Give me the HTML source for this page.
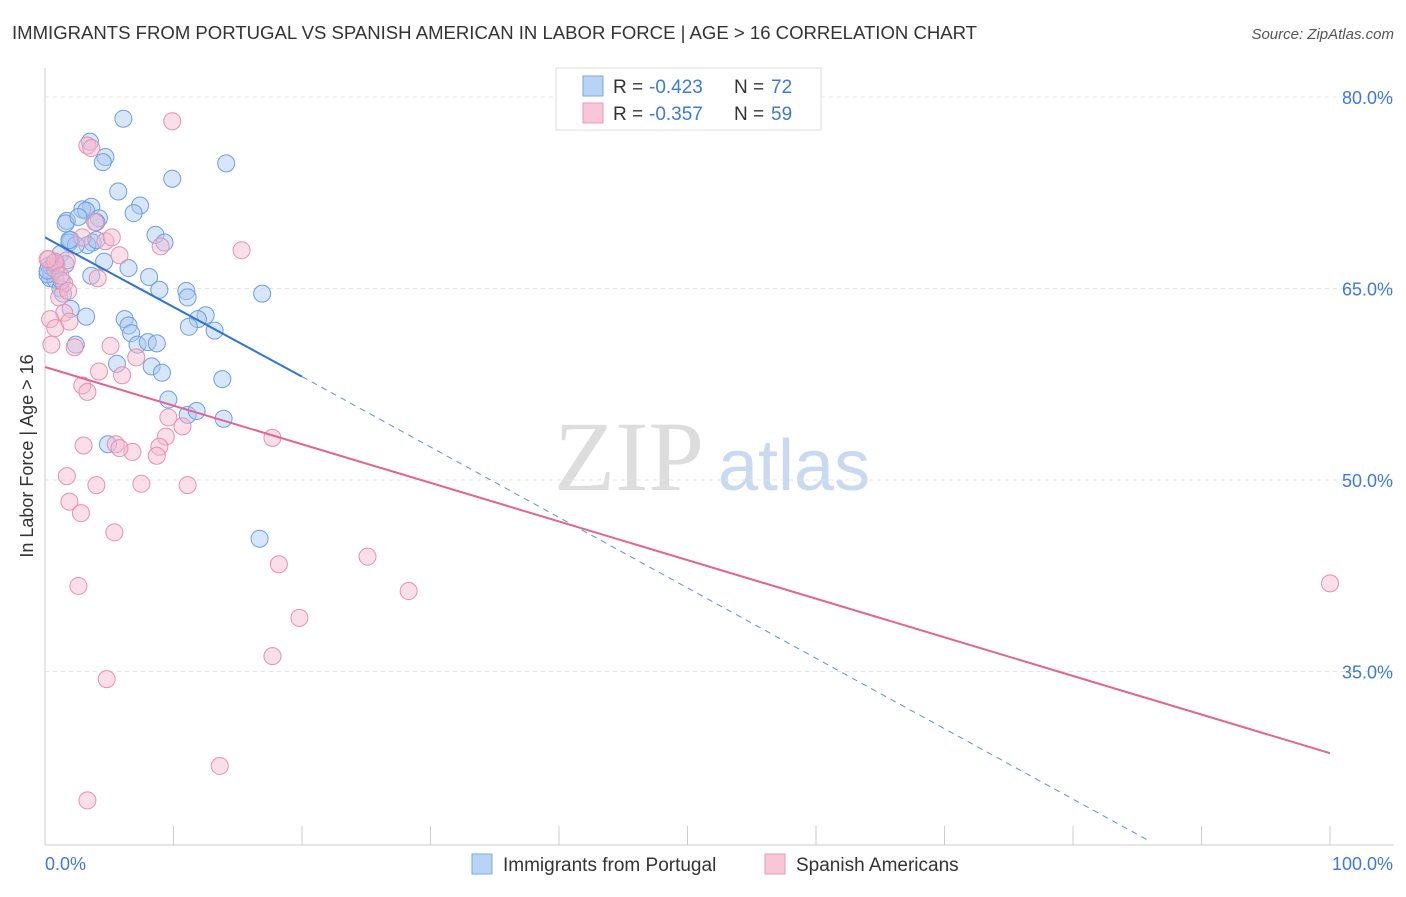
<!DOCTYPE html>
<html><head><meta charset="utf-8"><style>
body{margin:0;background:#fff;font-family:"Liberation Sans",sans-serif;}
</style></head><body>
<svg id="chart" width="1406" height="892" xmlns="http://www.w3.org/2000/svg">
<text x="12" y="39" font-size="18" fill="#333" textLength="965" lengthAdjust="spacingAndGlyphs">IMMIGRANTS FROM PORTUGAL VS SPANISH AMERICAN IN LABOR FORCE | AGE &gt; 16 CORRELATION CHART</text>
<text x="1394" y="39" font-size="15" fill="#555" font-style="italic" text-anchor="end">Source: ZipAtlas.com</text>
<text x="33" y="456" font-size="18" fill="#333" text-anchor="middle" transform="rotate(-90 33 456)">In Labor Force | Age &gt; 16</text>
<text x="554" y="490" font-size="100" fill="#ddd" font-family="Liberation Serif,serif">ZIP</text>
<text x="718" y="490" font-size="72" fill="#c9d9ef">atlas</text>
<g id="grid"></g><g id="pts"></g><g id="lines"></g>
<g>
<rect x="556" y="68" width="265" height="62" fill="#fff" stroke="#ddd"/>
<rect x="583" y="76" width="20" height="20" fill="#b9d3f5" stroke="#7aa6e6"/>
<rect x="583" y="103" width="20" height="20" fill="#f8c6d6" stroke="#eb9ab5"/>
<g font-size="19" fill="#333">
<text x="613" y="93">R =</text><text x="649" y="93" fill="#3d7ad6">-0.423</text><text x="734" y="93">N =</text><text x="771" y="93" fill="#3d7ad6">72</text></g>
<g font-size="19" fill="#333">
<text x="613" y="120">R =</text><text x="649" y="120" fill="#3d7ad6">-0.357</text><text x="734" y="120">N =</text><text x="771" y="120" fill="#3d7ad6">59</text></g>
</g>
<g>
<rect x="472" y="854" width="20" height="20" fill="#b9d3f5" stroke="#7aa6e6"/>
<text x="503" y="871" font-size="19" fill="#333">Immigrants from Portugal</text>
<rect x="765" y="854" width="20" height="20" fill="#f8c6d6" stroke="#eb9ab5"/>
<text x="796" y="871" font-size="19" fill="#333">Spanish Americans</text>
</g>
</svg>
<script>
const yTicks=[80,65,50,35];
const yTickLabels=["80.0%","65.0%","50.0%","35.0%"];
const xTickLabels=["0.0%","100.0%"];
const blueX=[6.1,3.5,4.7,4.5,14.1,9.9,5.7,7.4,6.9,3.6,2.9,3.2,4.2,1.7,1.6,2.6,4.0,8.6,9.3,2.0,1.9,3.7,3.3,2.4,4.0,1.2,6.5,4.6,0.3,0.9,0.5,0.4,0.8,8.1,8.9,3.6,1.2,1.4,11.0,11.1,16.9,2.0,3.2,12.5,11.9,6.2,6.5,6.7,11.2,13.2,7.2,8.0,8.7,2.4,5.6,8.3,9.1,13.8,9.6,11.1,11.8,13.9,4.9,16.7,0.5,0.9,0.2,1.3,0.2,0.7,1.6,1.9];
const blueY=[78.3,76.5,75.3,74.9,74.8,73.6,72.6,71.5,70.9,71.4,71.2,71.1,70.5,70.3,70.1,70.6,70.2,69.2,68.6,68.8,68.6,68.6,68.4,68.4,68.8,67.7,66.6,67.1,66.8,66.6,66.2,65.8,65.7,65.9,64.9,66.0,65.0,64.6,64.8,64.3,64.6,63.4,62.8,62.9,62.6,62.6,62.1,61.5,62.0,61.7,60.6,60.8,60.7,60.6,59.1,58.9,58.4,57.9,56.3,55.1,55.4,54.8,52.8,45.4,66.7,66.8,66.1,65.6,66.4,67.0,66.9,68.8];
const pinkX=[9.9,3.3,3.6,15.3,4.7,5.2,3.9,2.9,9.0,5.8,1.7,0.3,0.8,1.5,1.1,4.1,1.8,1.5,0.4,0.8,1.9,0.5,2.3,5.1,7.1,4.2,6.0,2.9,3.3,9.6,10.7,9.4,8.9,8.7,6.8,5.5,5.8,3.0,17.7,1.7,4.0,7.5,11.1,1.9,2.8,5.4,25.1,18.2,28.3,2.6,19.8,17.7,4.8,13.6,3.3,100,0.8,0.2,1.2];
const pinkY=[78.1,76.2,76.0,68.0,68.7,69.0,70.2,69.0,68.3,67.6,67.2,67.3,66.5,65.4,64.3,65.8,64.8,63.1,62.6,61.9,62.4,60.6,60.4,60.5,59.6,58.5,58.2,57.4,56.9,54.9,54.2,53.4,52.6,51.9,52.2,52.8,52.5,52.7,53.3,50.3,49.6,49.7,49.6,48.3,47.4,45.9,44.0,43.4,41.3,41.7,39.2,36.2,34.4,27.6,24.9,41.9,67.1,67.3,66.0];
const blueTrend=[[0,69.0],[20,58.1]];
const blueDash=[[20,58.1],[85.8,21.8]];
const pinkTrend=[[0,58.85],[100,28.6]];
const X=v=>45+v*12.85, Y=v=>97+(80-v)*12.766;
const NS="http://www.w3.org/2000/svg";
function mk(tag,attrs,parent){const e=document.createElementNS(NS,tag);for(const k in attrs)e.setAttribute(k,attrs[k]);parent.appendChild(e);return e;}
const grid=document.getElementById('grid');
yTicks.forEach((t,i)=>{
 const l=mk('line',{x1:45,x2:1394,y1:Y(t),y2:Y(t),stroke:'#e4e4e4','stroke-dasharray':'4,4'},grid);
 
 
 const tx=mk('text',{x:1393,y:Y(t)+7,'font-size':18,fill:'#3d7ad6','text-anchor':'end'},grid);tx.textContent=yTickLabels[i];
 
 
});
mk('line',{x1:45,x2:45,y1:68,y2:845,stroke:'#ccc'},grid);
mk('line',{x1:45,x2:1394,y1:845,y2:845,stroke:'#ccc'},grid);
for(let i=0;i<=10;i++){const t=mk('line',{x1:X(i*10),x2:X(i*10),y1:826,y2:845,stroke:'#ccc'},grid);
 
 }
[[45,'start',0],[1393,'end',1]].forEach(a=>{const t=mk('text',{x:a[0],y:870,'font-size':18,fill:'#3d7ad6','text-anchor':a[1]},grid);t.textContent=xTickLabels[a[2]];
 
 });
const pts=document.getElementById('pts');
function scatter(xs,ys,fill,stroke,name){xs.forEach((x,i)=>{const c=mk('circle',{cx:X(x),cy:Y(ys[i]),r:8.5,fill:fill,'fill-opacity':0.45,stroke:stroke,'stroke-width':1},pts);
 
 });}
scatter(blueX,blueY,'#a9c8f2','#6c9fe4','point-portugal');
scatter(pinkX,pinkY,'#f7b9cd','#e98fae','point-spanish');
const lines=document.getElementById('lines');
const b=mk('line',{x1:X(blueTrend[0][0]),y1:Y(blueTrend[0][1]),x2:X(blueTrend[1][0]),y2:Y(blueTrend[1][1]),stroke:'#2f72d8','stroke-width':2},lines);


const bd=mk('line',{x1:X(blueDash[0][0]),y1:Y(blueDash[0][1]),x2:X(blueDash[1][0]),y2:Y(blueDash[1][1]),stroke:'#5b8fdc','stroke-width':1,'stroke-dasharray':'6,5'},lines);


const p=mk('line',{x1:X(pinkTrend[0][0]),y1:Y(pinkTrend[0][1]),x2:X(pinkTrend[1][0]),y2:Y(pinkTrend[1][1]),stroke:'#e2648f','stroke-width':2},lines);


</script>
</body></html>
